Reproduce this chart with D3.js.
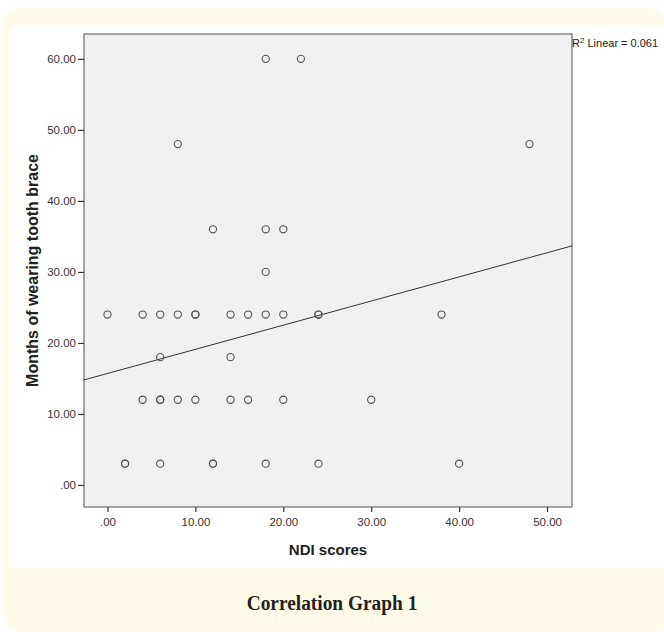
<!DOCTYPE html>
<html>
<head>
<meta charset="utf-8">
<script src="https://cdn.jsdelivr.net/npm/d3@7"></script>
<style>
  html, body { margin: 0; padding: 0; background: #fff; }
  svg { display: block; }
</style>
</head>
<body>
<div id="chart"></div>
<script>
// NDI scores (x) and months of wearing tooth brace (y), one entry per subject
let ndiScores = [18, 22, 8, 48, 12, 18, 20, 18,
  0, 4, 6, 8, 10, 10, 14, 16, 18, 20, 24, 24, 38,
  6, 14,
  4, 6, 6, 8, 10, 14, 16, 20, 30,
  2, 2, 6, 12, 12, 18, 24, 40]
let braceMonths = [60, 60, 48, 48, 36, 36, 36, 30,
  24, 24, 24, 24, 24, 24, 24, 24, 24, 24, 24, 24, 24,
  18, 18,
  12, 12, 12, 12, 12, 12, 12, 12, 12,
  3, 3, 3, 3, 3, 3, 3, 3]

let xTicks = [0, 10, 20, 30, 40, 50]
let yTicks = [0, 10, 20, 30, 40, 50, 60]

// fit line as drawn (intercept, slope) and its R2 label
let fitLine = [15.7, 0.34]
let r2Value = '0.061'

let width = 664, height = 632

let svg = d3.select('#chart').append('svg')
    .attr('width', width)
    .attr('height', height)

// pale frame around the figure
svg.append('path')
    .attr('fill', '#fffbe8')
    .attr('d', 'M4,27 Q4,7 24,7 L644,7 Q664,7 664,27 L664,626 Q664,632 658,632 L24,632 Q4,632 4,612 Z')
svg.append('rect')
    .attr('x', 9).attr('y', 26)
    .attr('width', width - 9).attr('height', 542)
    .attr('fill', '#fff')

let plot = { left: 84, right: 572, top: 34, bottom: 507 }

let x = d3.scaleLinear()
    .domain([-2.67, 52.84])
    .range([plot.left, plot.right])
let y = d3.scaleLinear()
    .domain([-3.1, 63.5])
    .range([plot.bottom, plot.top])

svg.append('rect')
    .attr('x', plot.left).attr('y', plot.top)
    .attr('width', plot.right - plot.left)
    .attr('height', plot.bottom - plot.top)
    .attr('fill', '#f0f0f0')
    .attr('stroke', '#6a6a6a')
    .attr('stroke-width', 1.2)

let fmt = d => d === 0 ? '.00' : d3.format('.2f')(d)

let xAxis = svg.append('g')
    .attr('transform', `translate(0,${plot.bottom})`)
    .call(d3.axisBottom(x).tickValues(xTicks).tickFormat(fmt).tickSize(5).tickPadding(6))
let yAxis = svg.append('g')
    .attr('transform', `translate(${plot.left},0)`)
    .call(d3.axisLeft(y).tickValues(yTicks).tickFormat(fmt).tickSize(6).tickPadding(2))

;[xAxis, yAxis].forEach(a => {
  a.select('.domain').remove()
  a.selectAll('line').attr('stroke', '#333').attr('stroke-width', 1.2)
  a.selectAll('text')
    .attr('fill', '#333')
    .style('font-family', '"Liberation Sans", Arial, sans-serif')
    .style('font-size', '11.5px')
})

// regression line across the plot
let x0 = x.domain()[0], x1 = x.domain()[1]
svg.append('line')
    .attr('x1', x(x0)).attr('y1', y(fitLine[0] + fitLine[1] * x0))
    .attr('x2', x(x1)).attr('y2', y(fitLine[0] + fitLine[1] * x1))
    .attr('stroke', '#333')
    .attr('stroke-width', 1)

svg.append('g')
  .selectAll('circle')
  .data(ndiScores)
  .enter().append('circle')
    .attr('cx', d => x(d))
    .attr('cy', (d, i) => y(braceMonths[i]))
    .attr('r', 3.6)
    .attr('fill', 'none')
    .attr('stroke', '#555')
    .attr('stroke-width', 1.1)

// axis titles
svg.append('text')
    .attr('x', (plot.left + plot.right) / 2)
    .attr('y', 555)
    .attr('text-anchor', 'middle')
    .style('font-family', '"Liberation Sans", Arial, sans-serif')
    .style('font-size', '15px')
    .style('font-weight', 'bold')
    .attr('fill', '#222')
    .text('NDI scores')

svg.append('text')
    .attr('transform', `translate(38,${(plot.top + plot.bottom) / 2}) rotate(-90)`)
    .attr('text-anchor', 'middle')
    .style('font-family', '"Liberation Sans", Arial, sans-serif')
    .style('font-size', '16px')
    .style('font-weight', 'bold')
    .attr('fill', '#222')
    .text('Months of wearing tooth brace')

// R2 label
let r2 = svg.append('text')
    .attr('x', plot.right)
    .attr('y', 47)
    .style('font-family', '"Liberation Sans", Arial, sans-serif')
    .style('font-size', '11px')
    .attr('fill', '#222')
r2.append('tspan').text('R')
r2.append('tspan').attr('dy', -4).style('font-size', '8px').text('2')
r2.append('tspan').attr('dy', 4).text(' Linear = ' + r2Value)

// caption
svg.append('text')
    .attr('transform', 'translate(332,610) scale(0.88,1)')
    .attr('text-anchor', 'middle')
    .style('font-family', '"Liberation Serif", "DejaVu Serif", serif')
    .style('font-size', '22px')
    .style('font-weight', 'bold')
    .attr('fill', '#231f20')
    .text('Correlation Graph 1')
</script>
</body>
</html>
